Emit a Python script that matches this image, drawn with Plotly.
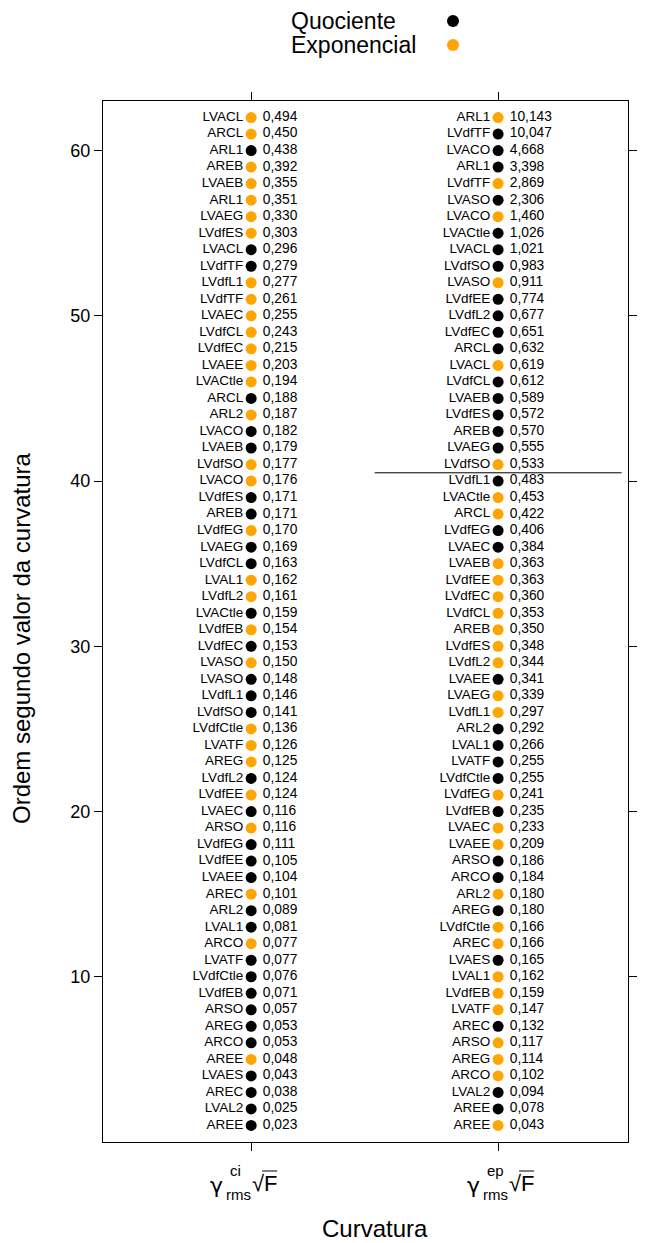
import plotly.graph_objects as go

# ---------------- data (top of chart -> bottom) ----------------
ci_names = ["LVACL","ARCL","ARL1","AREB","LVAEB","ARL1","LVAEG","LVdfES","LVACL","LVdfTF",
            "LVdfL1","LVdfTF","LVAEC","LVdfCL","LVdfEC","LVAEE","LVACtle","ARCL","ARL2","LVACO",
            "LVAEB","LVdfSO","LVACO","LVdfES","AREB","LVdfEG","LVAEG","LVdfCL","LVAL1","LVdfL2",
            "LVACtle","LVdfEB","LVdfEC","LVASO","LVASO","LVdfL1","LVdfSO","LVdfCtle","LVATF","AREG",
            "LVdfL2","LVdfEE","LVAEC","ARSO","LVdfEG","LVdfEE","LVAEE","AREC","ARL2","LVAL1",
            "ARCO","LVATF","LVdfCtle","LVdfEB","ARSO","AREG","ARCO","AREE","LVAES","AREC",
            "LVAL2","AREE"]
ci_values = [0.494,0.450,0.438,0.392,0.355,0.351,0.330,0.303,0.296,0.279,
             0.277,0.261,0.255,0.243,0.215,0.203,0.194,0.188,0.187,0.182,
             0.179,0.177,0.176,0.171,0.171,0.170,0.169,0.163,0.162,0.161,
             0.159,0.154,0.153,0.150,0.148,0.146,0.141,0.136,0.126,0.125,
             0.124,0.124,0.116,0.116,0.111,0.105,0.104,0.101,0.089,0.081,
             0.077,0.077,0.076,0.071,0.057,0.053,0.053,0.048,0.043,0.038,
             0.025,0.023]
ci_types = ["E","E","Q","E","E","E","E","E","Q","Q",
            "E","E","E","E","E","E","E","Q","E","Q",
            "Q","E","E","Q","Q","E","Q","Q","E","E",
            "Q","E","Q","E","Q","Q","Q","E","E","E",
            "Q","E","Q","E","Q","Q","Q","E","Q","Q",
            "E","Q","Q","Q","Q","Q","Q","E","Q","Q",
            "Q","Q"]

ep_names = ["ARL1","LVdfTF","LVACO","ARL1","LVdfTF","LVASO","LVACO","LVACtle","LVACL","LVdfSO",
            "LVASO","LVdfEE","LVdfL2","LVdfEC","ARCL","LVACL","LVdfCL","LVAEB","LVdfES","AREB",
            "LVAEG","LVdfSO","LVdfL1","LVACtle","ARCL","LVdfEG","LVAEC","LVAEB","LVdfEE","LVdfEC",
            "LVdfCL","AREB","LVdfES","LVdfL2","LVAEE","LVAEG","LVdfL1","ARL2","LVAL1","LVATF",
            "LVdfCtle","LVdfEG","LVdfEB","LVAEC","LVAEE","ARSO","ARCO","ARL2","AREG","LVdfCtle",
            "AREC","LVAES","LVAL1","LVdfEB","LVATF","AREC","ARSO","AREG","ARCO","LVAL2",
            "AREE","AREE"]
ep_values = [10.143,10.047,4.668,3.398,2.869,2.306,1.460,1.026,1.021,0.983,
             0.911,0.774,0.677,0.651,0.632,0.619,0.612,0.589,0.572,0.570,
             0.555,0.533,0.483,0.453,0.422,0.406,0.384,0.363,0.363,0.360,
             0.353,0.350,0.348,0.344,0.341,0.339,0.297,0.292,0.266,0.255,
             0.255,0.241,0.235,0.233,0.209,0.186,0.184,0.180,0.180,0.166,
             0.166,0.165,0.162,0.159,0.147,0.132,0.117,0.114,0.102,0.094,
             0.078,0.043]
ep_types = ["E","Q","Q","Q","E","Q","E","Q","Q","Q",
            "E","Q","Q","Q","Q","E","Q","Q","Q","Q",
            "Q","E","Q","E","E","Q","Q","E","E","E",
            "E","E","E","E","Q","E","E","Q","Q","Q",
            "Q","E","Q","E","E","Q","Q","E","Q","E",
            "E","Q","E","E","E","Q","E","E","E","Q",
            "Q","E"]

categories = [1, 2]
sup_labels = ["ci", "ep"]
y_ticks = [10, 20, 30, 40, 50, 60]
cut_rank = 40.5          # horizontal separator in second column
legend_names = ["Quociente", "Exponencial"]
colors = {"Q": "#000000", "E": "#FFA500"}

FONT = "Liberation Sans, Arial, sans-serif"
W, H = 652, 1243
L, R, T, B = 103, 24, 101, 101
PW, PH = W - L - R, H - T - B
label_shift = [-10, 0]   # horizontal pixel shift of the tick-label expressions

def fmt(v):
    return f"{v:.3f}".replace(".", ",")

fig = go.Figure()
for cat, names, values, types in [(categories[0], ci_names, ci_values, ci_types),
                                  (categories[1], ep_names, ep_values, ep_types)]:
    n = len(names)
    ranks = [n - i for i in range(n)]
    xs = [cat] * n
    fig.add_trace(go.Scatter(
        x=xs, y=ranks, mode="markers+text", text=names, textposition="middle left",
        marker=dict(size=11, color=[colors[t] for t in types], line=dict(width=0)),
        textfont=dict(family=FONT, size=13.5, color="black"),
        hoverinfo="skip", showlegend=False, cliponaxis=False))
    fig.add_trace(go.Scatter(
        x=xs, y=ranks, mode="markers+text", text=[fmt(v) for v in values],
        textposition="middle right",
        marker=dict(size=17, color="rgba(0,0,0,0)", line=dict(width=0)),
        textfont=dict(family=FONT, size=13.8, color="black"),
        hoverinfo="skip", showlegend=False, cliponaxis=False))

fig.add_shape(type="line", x0=1.5, x1=2.5, y0=cut_rank, y1=cut_rank,
              xref="x", yref="y", line=dict(color="black", width=1))

# x tick labels (gamma expressions)
for cat, sup, sh in zip(categories, sup_labels, label_shift):
    common = dict(x=cat, xref="x", y=0, yref="paper", showarrow=False, yanchor="middle")
    fig.add_annotation(text="γ", xanchor="center", xshift=-25 + sh, yshift=-43,
                       font=dict(family="DejaVu Sans, sans-serif", size=22, color="black"), **common)
    fig.add_annotation(text=sup, xanchor="left", xshift=-13 + sh, yshift=-28,
                       font=dict(family=FONT, size=15, color="black"), **common)
    fig.add_annotation(text="rms", xanchor="left", xshift=-17 + sh, yshift=-52,
                       font=dict(family=FONT, size=15, color="black"), **common)
    fig.add_annotation(text="√F", xanchor="left", xshift=9 + sh, yshift=-41,
                       font=dict(family=FONT, size=22, color="black"), **common)
    fig.add_shape(type="line", xref="x", yref="paper", xsizemode="pixel", ysizemode="pixel",
                  xanchor=cat, yanchor=0, x0=21 + sh, x1=36 + sh, y0=-29, y1=-29,
                  line=dict(color="black", width=1))

# axis titles
fig.add_annotation(text="Curvatura", x=(375 - L) / PW, y=0, xref="paper", yref="paper",
                   yshift=-86, showarrow=False, yanchor="middle", xanchor="center",
                   font=dict(family=FONT, size=24, color="black"))
fig.add_annotation(text="Ordem segundo valor da curvatura", x=(22 - L) / PW,
                   y=(H - B - 638) / PH,
                   xref="paper", yref="paper", textangle=-90, showarrow=False,
                   xanchor="center", yanchor="middle",
                   font=dict(family=FONT, size=24, color="black"))

# legend
for i, (name, t) in enumerate(zip(legend_names, ["Q", "E"])):
    py = 21 + 24 * i
    fig.add_annotation(text=name, x=(289 - L) / PW, y=(H - B - py) / PH, xref="paper",
                       yref="paper", xanchor="left", yanchor="middle", showarrow=False,
                       font=dict(family=FONT, size=23, color="black"))
    fig.add_shape(type="circle", xref="paper", yref="paper", xsizemode="pixel",
                  ysizemode="pixel", xanchor=(453 - L) / PW, yanchor=(H - B - py) / PH,
                  x0=-6, x1=6, y0=-6, y1=6, fillcolor=colors[t], line=dict(width=0))

axis_common = dict(showgrid=False, zeroline=False, showline=True, linecolor="black",
                   linewidth=1, mirror="ticks", ticks="outside", ticklen=8,
                   tickcolor="black", tickwidth=1)
fig.update_xaxes(range=[0.4, 2.526], tickvals=categories, showticklabels=False,
                 **axis_common)
fig.update_yaxes(range=[0, 63], tickvals=y_ticks, ticktext=[str(v) for v in y_ticks],
                 tickfont=dict(family=FONT, size=18, color="black"), **axis_common)

fig.update_layout(width=W, height=H, margin=dict(l=L, r=R, t=T, b=B),
                  paper_bgcolor="white", plot_bgcolor="white", showlegend=False,
                  font=dict(family=FONT))
fig.write_html("out.html")
